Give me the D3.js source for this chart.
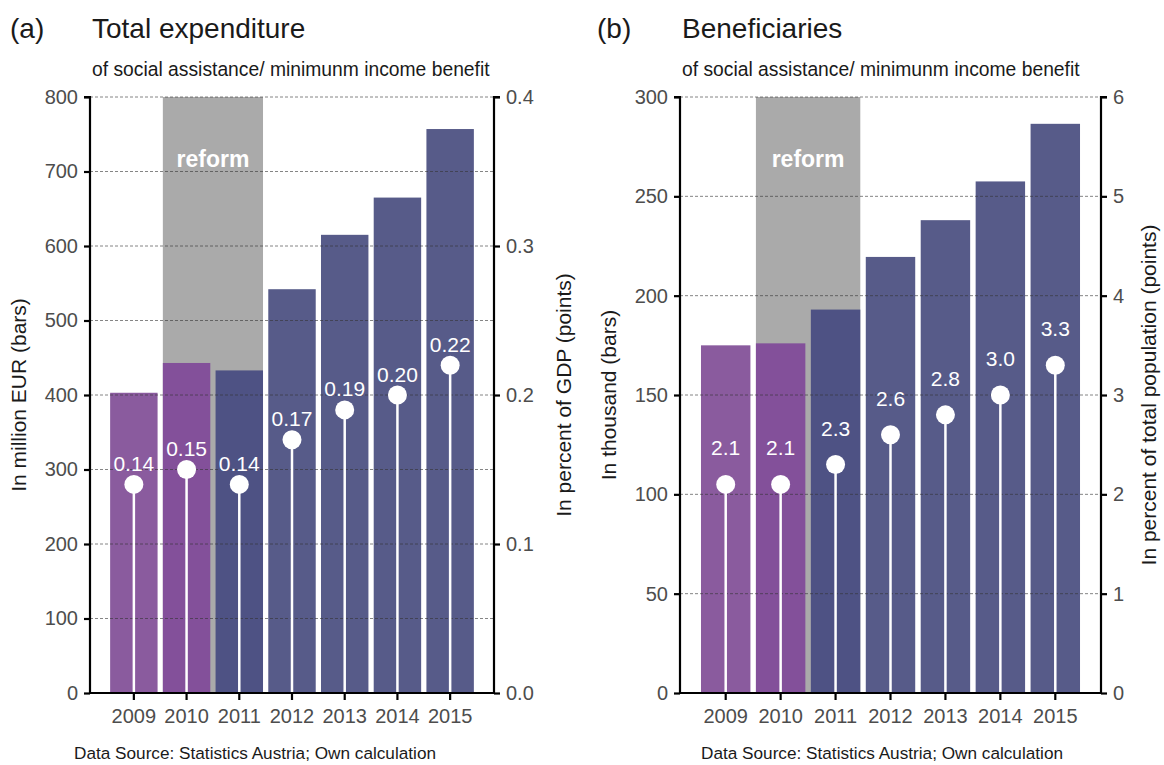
<!DOCTYPE html>
<html>
<head>
<meta charset="utf-8">
<script src="https://cdn.jsdelivr.net/npm/d3@7/dist/d3.min.js"></script>
<style>
  html, body { margin: 0; padding: 0; background: #ffffff; }
  svg { display: block; font-family: "Liberation Sans", Arial, sans-serif; }
</style>
</head>
<body>
<svg id="chart" width="1164" height="765"></svg>
<script>
// ---- data ----
const years = ["2009", "2010", "2011", "2012", "2013", "2014", "2015"];
const reformYears = ["2010", "2011"];

// Panel (a): total expenditure
const expenditureMioEur = [403, 443, 433, 542, 615, 665, 757];
const expenditureGdpPct = [0.14, 0.15, 0.14, 0.17, 0.19, 0.20, 0.22];
const expenditureLeftTicks = [0, 100, 200, 300, 400, 500, 600, 700, 800];
const expenditureRightTicks = [0.0, 0.1, 0.2, 0.3, 0.4];

// Panel (b): beneficiaries
const beneficiariesThousand = [175, 176, 193, 219.5, 238, 257.5, 286.5];
const beneficiariesPopPct = [2.1, 2.1, 2.3, 2.6, 2.8, 3.0, 3.3];
const beneficiariesLeftTicks = [0, 50, 100, 150, 200, 250, 300];
const beneficiariesRightTicks = [0, 1, 2, 3, 4, 5, 6];

// ---- styling ----
const barFill = {
  "2009": "#8a5b9e", "2010": "#83509a", "2011": "#4e5284",
  "2012": "#575b89", "2013": "#575b89", "2014": "#575b89", "2015": "#575b89"
};
const tickColor = "#4d4d4d";
const titleColor = "#1a1a1a";

const svg = d3.select("#chart");

function drawPanel(p) {
  const g = svg.append("g");
  const top = 97, bottom = 693;

  const x = d3.scaleBand().domain(years).range([p.x0, p.x1])
    .paddingInner(0.1).paddingOuter(0.382);
  const yL = d3.scaleLinear().domain([0, p.leftMax]).range([bottom, top]);
  const yR = d3.scaleLinear().domain([0, p.rightMax]).range([bottom, top]);

  // reform period shading
  const rx0 = x(reformYears[0]);
  const rx1 = x(reformYears[reformYears.length - 1]) + x.bandwidth();
  g.append("rect")
    .attr("x", rx0).attr("y", yL(p.leftMax))
    .attr("width", rx1 - rx0).attr("height", yL(0) - yL(p.leftMax))
    .attr("fill", "#aaaaaa");
  g.append("text")
    .attr("x", (rx0 + rx1) / 2).attr("y", 167)
    .attr("text-anchor", "middle")
    .attr("fill", "#ffffff").attr("font-weight", "bold")
    .attr("font-size", 23)
    .text("reform");

  // bars
  g.selectAll("rect.bar").data(years).enter().append("rect")
    .attr("class", "bar")
    .attr("x", d => x(d))
    .attr("y", (d, i) => yL(p.bars[i]))
    .attr("width", x.bandwidth())
    .attr("height", (d, i) => yL(0) - yL(p.bars[i]))
    .attr("fill", d => barFill[d]);

  // horizontal dashed grid, drawn over the bars
  g.selectAll("line.grid").data(p.leftTicks.filter(v => v > 0)).enter().append("line")
    .attr("class", "grid")
    .attr("x1", p.x0).attr("x2", p.x1)
    .attr("y1", d => yL(d)).attr("y2", d => yL(d))
    .attr("stroke", "#333333").attr("stroke-opacity", 0.6)
    .attr("stroke-width", 1).attr("stroke-dasharray", "3,2");

  // lollipops (share, right axis)
  const cx = d => x(d) + x.bandwidth() / 2;
  g.selectAll("line.stem").data(years).enter().append("line")
    .attr("class", "stem")
    .attr("x1", cx).attr("x2", cx)
    .attr("y1", yR(0)).attr("y2", (d, i) => yR(p.points[i]))
    .attr("stroke", "#ffffff").attr("stroke-width", 2.5);
  g.selectAll("circle.pt").data(years).enter().append("circle")
    .attr("class", "pt")
    .attr("cx", cx).attr("cy", (d, i) => yR(p.points[i]))
    .attr("r", 9.5).attr("fill", "#ffffff");
  g.selectAll("text.pt-label").data(years).enter().append("text")
    .attr("class", "pt-label")
    .attr("x", cx).attr("y", (d, i) => yR(p.points[i]) - p.labelOffset)
    .attr("text-anchor", "middle")
    .attr("fill", "#ffffff").attr("font-size", 21)
    .text((d, i) => p.pointFormat(p.points[i]));

  // axes
  const axL = d3.axisLeft(yL).tickValues(p.leftTicks).tickSize(6).tickPadding(6)
    .tickFormat(d3.format("d"));
  const axR = d3.axisRight(yR).tickValues(p.rightTicks).tickSize(6).tickPadding(6)
    .tickFormat(p.rightFormat);
  const axB = d3.axisBottom(x).tickSize(7).tickPadding(9);

  function styleAxis(sel) {
    sel.select(".domain").attr("stroke", "#000").attr("stroke-width", 2.2);
    sel.selectAll(".tick line").attr("stroke", "#000").attr("stroke-width", 2.2);
    sel.selectAll(".tick text").attr("fill", tickColor).attr("font-size", 20);
  }
  const gl = g.append("g").attr("transform", `translate(${p.x0},0)`).call(axL);
  gl.select(".domain").attr("d", `M-6,${top}H0V${bottom}`);
  styleAxis(gl);
  const gr = g.append("g").attr("transform", `translate(${p.x1},0)`).call(axR);
  gr.select(".domain").attr("d", `M6,${top}H0V${bottom}`);
  styleAxis(gr);
  const gb = g.append("g").attr("transform", `translate(0,${bottom})`).call(axB);
  gb.select(".domain").attr("d", `M${p.x0},0H${p.x1}`);
  styleAxis(gb);

  // axis titles
  g.append("text")
    .attr("transform", `translate(${p.leftTitleX},${(top + bottom) / 2}) rotate(-90)`)
    .attr("text-anchor", "middle").attr("fill", titleColor).attr("font-size", 21)
    .text(p.leftTitle);
  g.append("text")
    .attr("transform", `translate(${p.rightTitleX},${(top + bottom) / 2}) rotate(-90)`)
    .attr("text-anchor", "middle").attr("fill", titleColor).attr("font-size", 21)
    .text(p.rightTitle);

  // headings
  g.append("text").attr("x", p.tagX).attr("y", 38)
    .attr("fill", titleColor).attr("font-size", 28).text(p.tag);
  g.append("text").attr("x", p.x0 + 2).attr("y", 38)
    .attr("fill", titleColor).attr("font-size", 28).text(p.title);
  g.append("text").attr("x", p.x0 + 2).attr("y", 76)
    .attr("fill", titleColor).attr("font-size", 19.3)
    .text("of social assistance/ minimunm income benefit");
  g.append("text").attr("x", p.footX).attr("y", 759)
    .attr("text-anchor", "middle").attr("fill", titleColor).attr("font-size", 17.2)
    .text("Data Source: Statistics Austria; Own calculation");
}

drawPanel({
  x0: 90, x1: 494,
  leftMax: 800, rightMax: 0.4,
  bars: expenditureMioEur, points: expenditureGdpPct,
  leftTicks: expenditureLeftTicks, rightTicks: expenditureRightTicks,
  rightFormat: d3.format(".1f"), pointFormat: d3.format(".2f"),
  labelOffset: 13.5,
  leftTitle: "In million EUR (bars)", leftTitleX: 26,
  rightTitle: "In percent of GDP (points)", rightTitleX: 571,
  tag: "(a)", tagX: 10, title: "Total expenditure", footX: 255
});

drawPanel({
  x0: 680, x1: 1101,
  leftMax: 300, rightMax: 6,
  bars: beneficiariesThousand, points: beneficiariesPopPct,
  leftTicks: beneficiariesLeftTicks, rightTicks: beneficiariesRightTicks,
  rightFormat: d3.format("d"), pointFormat: d3.format(".1f"),
  labelOffset: 29,
  leftTitle: "In thousand (bars)", leftTitleX: 616,
  rightTitle: "In percent of total population (points)", rightTitleX: 1156,
  tag: "(b)", tagX: 597, title: "Beneficiaries", footX: 882
});
</script>
</body>
</html>
